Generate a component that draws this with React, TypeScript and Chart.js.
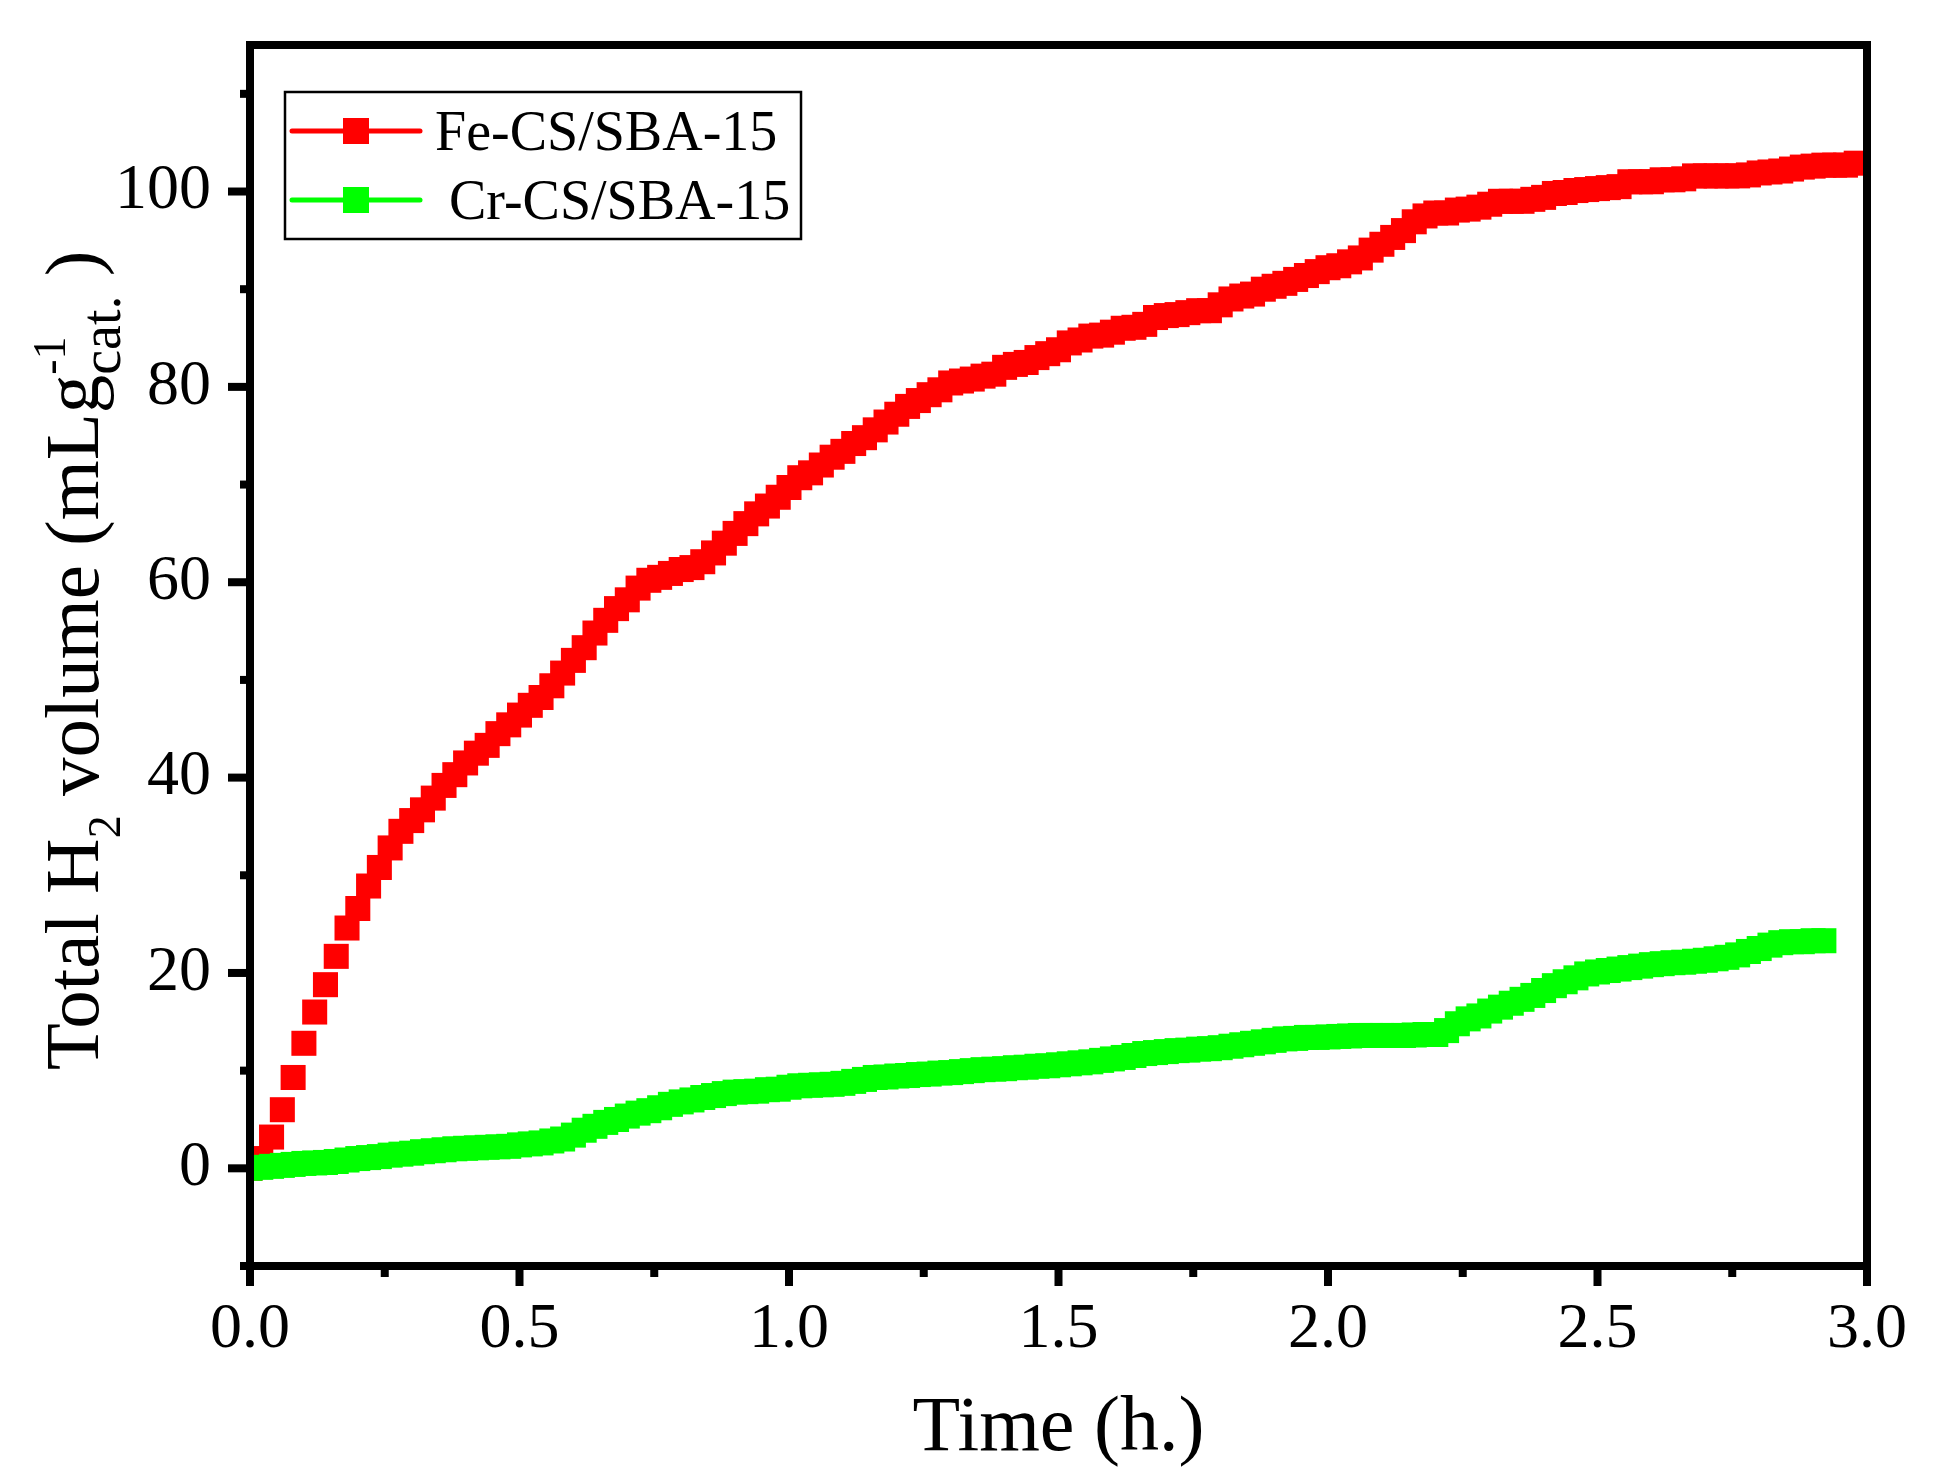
import React, { useEffect, useRef } from 'react';
import Chart from 'chart.js/auto';

// sampling interval of the recorded curves (h)
const TIME_STEP = 0.02;

// Fe-CS/SBA-15, total H2 volume (mL g-1), from t = 0 to 2.98 h
const FE_VALUES = [
  0, 1.0, 3.2, 6.0, 9.3, 12.8, 16.0, 18.8, 21.7, 24.6,
  26.6, 28.9, 30.8, 32.8, 34.5, 35.6, 36.7, 37.9, 39.2, 40.3,
  41.5, 42.5, 43.3, 44.5, 45.4, 46.4, 47.4, 48.2, 49.4, 50.7,
  52.0, 53.3, 54.8, 56.1, 57.3, 58.2, 59.4, 60.2, 60.5, 60.9,
  61.3, 61.5, 62.1, 63.0, 64.0, 65.0, 66.0, 67.0, 67.8, 68.7,
  69.7, 70.7, 71.2, 72.0, 72.8, 73.4, 74.2, 74.8, 75.6, 76.4,
  77.2, 78.0, 78.6, 79.2, 79.7, 80.4, 80.6, 80.8, 81.1, 81.3,
  82.0, 82.3, 82.5, 83.0, 83.4, 83.8, 84.5, 84.8, 85.2, 85.3,
  85.6, 86.0, 86.1, 86.4, 87.1, 87.3, 87.4, 87.6, 87.8, 87.8,
  88.4, 89.0, 89.3, 89.5, 90.0, 90.3, 90.6, 91.0, 91.4, 91.8,
  92.2, 92.4, 92.8, 93.2, 94.0, 94.6, 95.3, 96.0, 96.9, 97.5,
  97.8, 97.8, 98.1, 98.2, 98.4, 98.7, 99.0, 99.0, 99.0, 99.2,
  99.4, 99.8, 99.9, 100.1, 100.2, 100.3, 100.4, 100.5, 101.0, 101.0,
  101.0, 101.2, 101.2, 101.3, 101.6, 101.6, 101.6, 101.6, 101.6, 101.7,
  101.9, 102.0, 102.1, 102.3, 102.5, 102.6, 102.7, 102.7, 102.7, 102.9,
];

// Cr-CS/SBA-15, from t = 0 to 2.92 h
const CR_VALUES = [
  0.0, 0.1, 0.2, 0.3, 0.4, 0.5, 0.55, 0.6, 0.7, 0.85,
  1.0, 1.1, 1.2, 1.35, 1.45, 1.55, 1.7, 1.8, 1.9, 2.0,
  2.05, 2.1, 2.15, 2.2, 2.25, 2.4, 2.5, 2.6, 2.8, 3.0,
  3.4, 3.9, 4.3, 4.7, 5.0, 5.35, 5.65, 5.9, 6.2, 6.55,
  6.8, 7.0, 7.25, 7.45, 7.65, 7.8, 7.85, 7.9, 8.05, 8.1,
  8.3, 8.45, 8.5, 8.55, 8.6, 8.7, 8.9, 9.1, 9.3, 9.35,
  9.45, 9.5, 9.6, 9.65, 9.75, 9.8, 9.9, 10.0, 10.1, 10.15,
  10.2, 10.3, 10.35, 10.45, 10.5, 10.6, 10.7, 10.8, 10.9, 11.05,
  11.2, 11.35, 11.55, 11.75, 11.85, 11.95, 12.05, 12.1, 12.2, 12.25,
  12.35, 12.5, 12.65, 12.8, 12.95, 13.1, 13.25, 13.3, 13.4, 13.4,
  13.45, 13.5, 13.55, 13.6, 13.6, 13.6, 13.6, 13.6, 13.65, 13.7,
  13.7, 14.1, 14.8, 15.3, 15.6, 16.1, 16.5, 16.9, 17.3, 17.7,
  18.2, 18.7, 19.1, 19.5, 19.9, 20.1, 20.25, 20.4, 20.55, 20.7,
  20.85, 20.95, 21.05, 21.1, 21.2, 21.3, 21.45, 21.6, 21.85, 22.2,
  22.5, 22.85, 23.1, 23.2, 23.2, 23.3, 23.3,
];

const SERIES_NAMES = ['Fe-CS/SBA-15', ' Cr-CS/SBA-15'];
const SERIES_COLORS = ['#ff0000', '#00ff00'];

const X_MAJOR = [0, 0.5, 1.0, 1.5, 2.0, 2.5, 3.0];
const X_MINOR = [0.25, 0.75, 1.25, 1.75, 2.25, 2.75];
const Y_MAJOR = [0, 20, 40, 60, 80, 100];
const Y_MINOR = [-10, 10, 30, 50, 70, 90, 110];

const FONT = "'Liberation Serif', 'Times New Roman', serif";

const toPoints = (values: number[]) =>
  values.map((v, i) => ({ x: +(i * TIME_STEP).toFixed(2), y: v }));

const framePlugin = {
  id: 'frame',
  afterDatasetsDraw(chart: any) {
    const { ctx, chartArea: a, scales } = chart;
    ctx.save();
    ctx.strokeStyle = '#000';
    ctx.lineWidth = 8;
    ctx.strokeRect(a.left, a.top, a.right - a.left, a.bottom - a.top);
    ctx.fillStyle = '#000';
    X_MAJOR.forEach((v) => {
      const px = scales.x.getPixelForValue(v);
      ctx.fillRect(px - 4, a.bottom, 8, 20);
    });
    X_MINOR.forEach((v) => {
      const px = scales.x.getPixelForValue(v);
      ctx.fillRect(px - 4, a.bottom, 8, 11);
    });
    Y_MAJOR.forEach((v) => {
      const py = scales.y.getPixelForValue(v);
      ctx.fillRect(a.left - 22, py - 4, 22, 8);
    });
    Y_MINOR.forEach((v) => {
      const py = scales.y.getPixelForValue(v);
      ctx.fillRect(a.left - 10, py - 4, 10, 8);
    });
    ctx.restore();
  },
  afterDraw(chart: any) {
    const { ctx, chartArea: a } = chart;
    ctx.save();
    ctx.fillStyle = '#000';

    // x title
    ctx.font = `78px ${FONT}`;
    ctx.textAlign = 'center';
    ctx.textBaseline = 'alphabetic';
    ctx.fillText('Time (h.)', (a.left + a.right) / 2, 1450);

    // y title with sub/superscripts
    const parts = [
      { text: 'Total H', size: 77, dy: 0, advance: true },
      { text: '2', size: 46, dy: 22, advance: true },
      { text: ' volume (mLg', size: 77, dy: 0, advance: true },
      { text: '-1', size: 46, dy: -33, advance: false },
      { text: 'cat.', size: 56, dy: 22, advance: true },
      { text: ' )', size: 77, dy: 0, advance: true },
    ];
    ctx.textAlign = 'left';
    let total = 0;
    const widths = parts.map((p) => {
      ctx.font = `${p.size}px ${FONT}`;
      const w = ctx.measureText(p.text).width;
      if (p.advance) total += w;
      return w;
    });
    ctx.translate(98, (a.top + a.bottom) / 2 + 5);
    ctx.rotate(-Math.PI / 2);
    let cx = -total / 2;
    parts.forEach((p, i) => {
      ctx.font = `${p.size}px ${FONT}`;
      ctx.fillText(p.text, cx, p.dy);
      if (p.advance) cx += widths[i];
    });
    ctx.setTransform(1, 0, 0, 1, 0, 0);

    // legend
    ctx.strokeStyle = '#000';
    ctx.lineWidth = 2.5;
    ctx.strokeRect(285, 92, 516, 147);
    const rows = [131, 200];
    rows.forEach((ry, i) => {
      ctx.strokeStyle = SERIES_COLORS[i];
      ctx.lineWidth = 5;
      ctx.lineCap = 'round';
      ctx.beginPath();
      ctx.moveTo(292, ry);
      ctx.lineTo(420, ry);
      ctx.stroke();
      ctx.fillStyle = SERIES_COLORS[i];
      ctx.fillRect(343, ry - 13, 26, 26);
      ctx.fillStyle = '#000';
      ctx.font = `56px ${FONT}`;
      ctx.textAlign = 'left';
      ctx.fillText(SERIES_NAMES[i], 435, ry + 19);
    });
    ctx.restore();
  },
};

const App: React.FC = () => {
  const chartRef = useRef<HTMLCanvasElement | null>(null);

  useEffect(() => {
    const ctx = chartRef.current?.getContext('2d');
    if (!ctx) return;
    const series = [FE_VALUES, CR_VALUES];
    const chartInstance = new Chart(ctx, {
      type: 'line',
      data: {
        datasets: series.map((values, i) => ({
          label: SERIES_NAMES[i],
          data: toPoints(values),
          borderColor: SERIES_COLORS[i],
          backgroundColor: SERIES_COLORS[i],
          borderWidth: 5,
          showLine: false,
          pointStyle: 'rect',
          pointRadius: 17.7,
          pointBorderWidth: 0,
          pointHoverRadius: 17.7,
          order: i === 0 ? 1 : 0,
          clip: 0,
        })),
      },
      options: {
        animation: false,
        responsive: false,
        layout: { padding: { top: 45, right: 71, left: 0, bottom: 0 } },
        plugins: {
          legend: { display: false },
          tooltip: { enabled: false },
        },
        scales: {
          x: {
            type: 'linear',
            min: 0,
            max: 3,
            grid: { display: false, drawTicks: false },
            border: { display: false },
            afterBuildTicks: (scale: any) => {
              scale.ticks = X_MAJOR.map((v) => ({ value: v }));
            },
            afterFit: (scale: any) => {
              scale.height = 217;
              scale.paddingLeft = 0;
              scale.paddingRight = 0;
            },
            ticks: {
              padding: 26,
              color: '#000',
              font: { family: FONT, size: 64 },
              maxRotation: 0,
              callback: (v: any) => Number(v).toFixed(1),
            },
          },
          y: {
            type: 'linear',
            min: -10,
            max: 115,
            grid: { display: false, drawTicks: false },
            border: { display: false },
            afterBuildTicks: (scale: any) => {
              scale.ticks = Y_MAJOR.map((v) => ({ value: v }));
            },
            afterFit: (scale: any) => {
              scale.width = 250;
              scale.paddingTop = 0;
              scale.paddingBottom = 0;
            },
            ticks: {
              padding: 39,
              color: '#000',
              font: { family: FONT, size: 64 },
            },
          },
        },
      },
      plugins: [framePlugin],
    } as any);

    return () => {
      chartInstance.destroy();
    };
  }, []);

  return (
    <div style={{ position: 'absolute', left: 0, top: 0, width: 1938, height: 1483, background: '#fff' }}>
      <canvas ref={chartRef} width={1938} height={1483} />
    </div>
  );
};

export default App;
